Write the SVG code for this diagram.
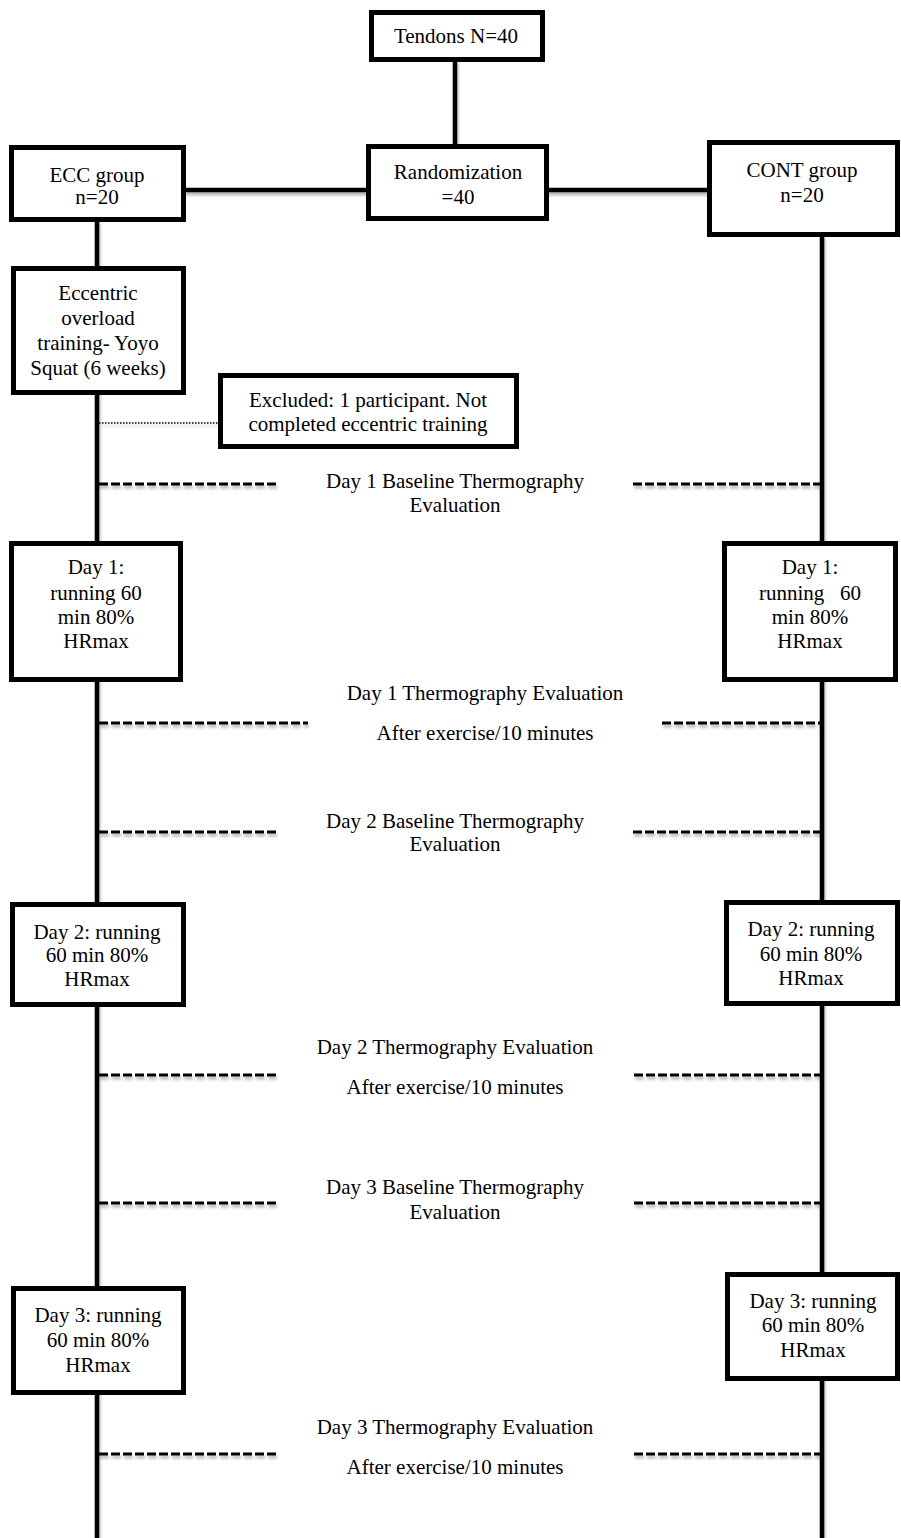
<svg xmlns="http://www.w3.org/2000/svg" width="901" height="1538" viewBox="0 0 901 1538">
<defs>
<filter id="sh" x="-10%" y="-10%" width="120%" height="130%">
<feDropShadow dx="1" dy="3" stdDeviation="1.5" flood-color="#000" flood-opacity="0.3"/>
</filter>
<style>
.box{fill:#fff;stroke:#000;stroke-width:5}
.ln{stroke:#000;stroke-width:4.5;fill:none}
.ds{stroke:#000;stroke-width:3;stroke-dasharray:9 3;fill:none}
.dt{stroke:#000;stroke-width:1.5;stroke-dasharray:1.5 1.5;fill:none}
text{font-family:"Liberation Serif","Times New Roman",serif;font-size:21px;fill:#000;text-anchor:middle}
</style>
</defs>
<rect width="901" height="1538" fill="#fff"/>
<g id="connectors" filter="url(#sh)">
<line class="ln" x1="455" y1="60" x2="455" y2="146"/>
<line class="ln" x1="184" y1="190" x2="709" y2="190"/>
<line class="ln" x1="97" y1="220" x2="97" y2="1538"/>
<line class="ln" x1="822" y1="235" x2="822" y2="1538"/>
<line class="dt" x1="99" y1="423" x2="218" y2="423"/>
<line class="ds" x1="99" y1="484" x2="278" y2="484"/>
<line class="ds" x1="633" y1="484" x2="820" y2="484"/>
<line class="ds" x1="99" y1="723" x2="308" y2="723"/>
<line class="ds" x1="662" y1="723" x2="820" y2="723"/>
<line class="ds" x1="99" y1="832" x2="277" y2="832"/>
<line class="ds" x1="633" y1="832" x2="820" y2="832"/>
<line class="ds" x1="99" y1="1075" x2="278" y2="1075"/>
<line class="ds" x1="634" y1="1075" x2="820" y2="1075"/>
<line class="ds" x1="99" y1="1203" x2="278" y2="1203"/>
<line class="ds" x1="634" y1="1203" x2="820" y2="1203"/>
<line class="ds" x1="99" y1="1454" x2="278" y2="1454"/>
<line class="ds" x1="634" y1="1454" x2="820" y2="1454"/>
</g>
<g id="tendons"><rect class="box" x="371.5" y="12.5" width="171" height="47"/><text x="456" y="43">Tendons N=40</text></g>
<g id="randomization"><rect class="box" x="368.5" y="146.5" width="178" height="72"/><text x="458" y="179">Randomization</text><text x="458" y="204">=40</text></g>
<g id="ecc"><rect class="box" x="11.5" y="147.5" width="172" height="72"/><text x="97" y="182">ECC group</text><text x="97" y="204">n=20</text></g>
<g id="cont"><rect class="box" x="709.5" y="142.5" width="188" height="92"/><text x="802" y="177">CONT group</text><text x="802" y="202">n=20</text></g>
<g id="eccentric"><rect class="box" x="13.5" y="268.5" width="170" height="124"/><text x="98" y="300">Eccentric</text><text x="98" y="325">overload</text><text x="98" y="350">training- Yoyo</text><text x="98" y="375">Squat (6 weeks)</text></g>
<g id="excluded"><rect class="box" x="220.5" y="375.5" width="296" height="71"/><text x="368" y="407">Excluded: 1 participant. Not</text><text x="368" y="431">completed eccentric training</text></g>
<g id="eval-d1-base"><text x="455" y="488">Day 1 Baseline Thermography</text><text x="455" y="512">Evaluation</text></g>
<g id="d1-ecc"><rect class="box" x="11.5" y="543.5" width="169" height="136"/><text x="96" y="574">Day 1:</text><text x="96" y="600">running 60</text><text x="96" y="624">min 80%</text><text x="96" y="648">HRmax</text></g>
<g id="d1-cont"><rect class="box" x="724.5" y="543.5" width="171" height="136"/><text x="810" y="574">Day 1:</text><text x="810" y="600" xml:space="preserve">running   60</text><text x="810" y="624">min 80%</text><text x="810" y="648">HRmax</text></g>
<g id="eval-d1-after"><text x="485" y="700">Day 1 Thermography Evaluation</text><text x="485" y="740">After exercise/10 minutes</text></g>
<g id="eval-d2-base"><text x="455" y="828">Day 2 Baseline Thermography</text><text x="455" y="851">Evaluation</text></g>
<g id="d2-ecc"><rect class="box" x="12.5" y="904.5" width="171" height="100"/><text x="97" y="939">Day 2: running</text><text x="97" y="962">60 min 80%</text><text x="97" y="986">HRmax</text></g>
<g id="d2-cont"><rect class="box" x="726.5" y="902.5" width="171" height="101"/><text x="811" y="936">Day 2: running</text><text x="811" y="961">60 min 80%</text><text x="811" y="985">HRmax</text></g>
<g id="eval-d2-after"><text x="455" y="1054">Day 2 Thermography Evaluation</text><text x="455" y="1094">After exercise/10 minutes</text></g>
<g id="eval-d3-base"><text x="455" y="1194">Day 3 Baseline Thermography</text><text x="455" y="1219">Evaluation</text></g>
<g id="d3-ecc"><rect class="box" x="13.5" y="1288.5" width="170" height="104"/><text x="98" y="1322">Day 3: running</text><text x="98" y="1347">60 min 80%</text><text x="98" y="1372">HRmax</text></g>
<g id="d3-cont"><rect class="box" x="727.5" y="1274.5" width="170" height="104"/><text x="813" y="1308">Day 3: running</text><text x="813" y="1332">60 min 80%</text><text x="813" y="1357">HRmax</text></g>
<g id="eval-d3-after"><text x="455" y="1434">Day 3 Thermography Evaluation</text><text x="455" y="1474">After exercise/10 minutes</text></g>
</svg>
